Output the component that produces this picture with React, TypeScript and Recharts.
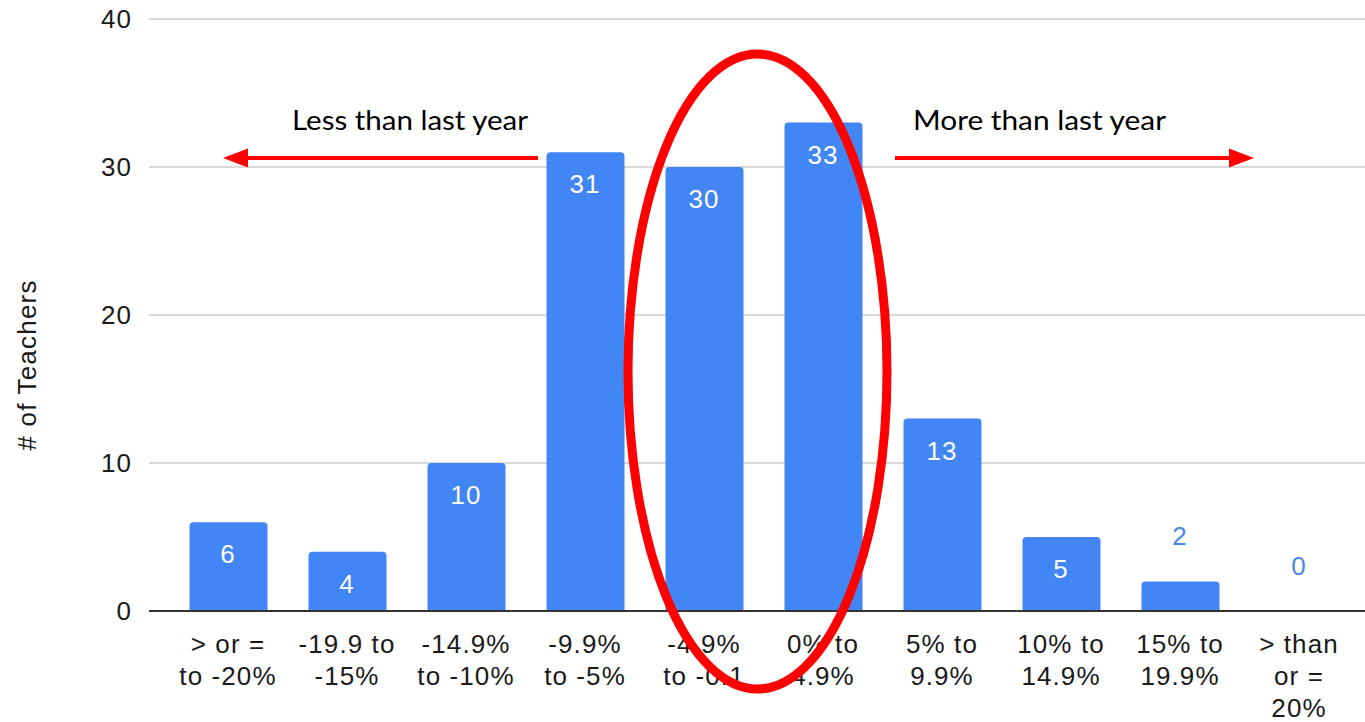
import React from 'react';
import { ComposedChart, Bar, Line, XAxis, YAxis, CartesianGrid, LabelList } from 'recharts';

// Change in teacher count, bucketed by percentage band
const categories = [
  'gte-minus-20',
  'minus-19.9-to-15',
  'minus-14.9-to-10',
  'minus-9.9-to-5',
  'minus-4.9-to-0.1',
  '0-to-4.9',
  '5-to-9.9',
  '10-to-14.9',
  '15-to-19.9',
  'gte-20',
];

const teachers = [6, 4, 10, 31, 30, 33, 13, 5, 2, 0];

const tickLabels: string[][] = [
  ['> or =', 'to -20%'],
  ['-19.9 to', '-15%'],
  ['-14.9%', 'to -10%'],
  ['-9.9%', 'to -5%'],
  ['-4.9%', 'to -0.1'],
  ['0% to', '4.9%'],
  ['5% to', '9.9%'],
  ['10% to', '14.9%'],
  ['15% to', '19.9%'],
  ['> than', 'or =', '20%'],
];

const yTicks = [0, 10, 20, 30, 40];

const data = categories.map((id, i) => ({ id, teachers: teachers[i] }));

const FONT = '"Liberation Sans", Arial, sans-serif';
const BAR_BLUE = '#4285F4';
const RED = '#ff0000';

function CategoryTick({ x, y, payload }: any) {
  const lines = tickLabels[categories.indexOf(payload.value)] || [];
  return (
    <text
      x={x}
      y={y}
      textAnchor="middle"
      fill="#1a1a1a"
      style={{ fontFamily: FONT, fontSize: 26, letterSpacing: 1.1 }}
    >
      {lines.map((line, i) => (
        <tspan key={i} x={x} dy={i === 0 ? 34 : 32}>
          {line}
        </tspan>
      ))}
    </text>
  );
}

// Value labels ride on an invisible line through the bar tops, so empty
// buckets still get their "0"; short bars carry the number above them.
function ValueLabel({ x, y, value }: any) {
  const inside = value >= 4;
  return (
    <text
      x={x}
      y={inside ? y + 32 : y - 45}
      textAnchor="middle"
      dominantBaseline="central"
      fill={inside ? '#ffffff' : '#4a86e8'}
      style={{ fontFamily: FONT, fontSize: 26, letterSpacing: 1 }}
    >
      {value}
    </text>
  );
}

function Annotations() {
  return (
    <svg
      width={1365}
      height={722}
      style={{ position: 'absolute', left: 0, top: 0, pointerEvents: 'none' }}
    >
      <text
        x={292}
        y={130}
        textLength={236}
        lengthAdjust="spacingAndGlyphs"
        style={{ fontFamily: 'Lato, "Open Sans", sans-serif', fontSize: 26 }}
        fill="#000"
      >
        Less than last year
      </text>
      <text
        x={913}
        y={130}
        textLength={253}
        lengthAdjust="spacingAndGlyphs"
        style={{ fontFamily: 'Lato, "Open Sans", sans-serif', fontSize: 26 }}
        fill="#000"
      >
        More than last year
      </text>
      <line x1={538} y1={158} x2={246} y2={158} stroke={RED} strokeWidth={4} />
      <polygon points="223,158 248,148.5 248,167.5" fill={RED} />
      <line x1={895} y1={158} x2={1231} y2={158} stroke={RED} strokeWidth={4} />
      <polygon points="1254,158 1229,148.5 1229,167.5" fill={RED} />
      <ellipse cx={757.5} cy={371.5} rx={129.5} ry={317.5} fill="none" stroke={RED} strokeWidth={9} />
    </svg>
  );
}

export default function App() {
  return (
    <div style={{ position: 'absolute', left: 0, top: 0, width: 1365, height: 722, background: '#fff' }}>
      <ComposedChart
        width={1365}
        height={722}
        data={data}
        margin={{ top: 19, right: 0, left: 0, bottom: 0 }}
        barSize={78}
      >
        <CartesianGrid vertical={false} stroke="#cccccc" strokeWidth={1.5} />
        <XAxis
          dataKey="id"
          height={111}
          padding={{ left: 19.5, right: 6.5 }}
          axisLine={{ stroke: '#333333', strokeWidth: 2 }}
          tickLine={false}
          interval={0}
          tick={<CategoryTick />}
        />
        <YAxis
          width={149}
          domain={[0, 40]}
          ticks={yTicks}
          axisLine={false}
          tickLine={false}
          tickMargin={11}
          tick={{ fill: '#1a1a1a', fontSize: 26, fontFamily: FONT, letterSpacing: 1 }}
          label={({ viewBox }: any) => {
            const cx = 27;
            const cy = viewBox.y + viewBox.height / 2 + 50;
            return (
              <text
                x={cx}
                y={cy}
                transform={`rotate(-90, ${cx}, ${cy})`}
                textAnchor="middle"
                dominantBaseline="central"
                fill="#1a1a1a"
                style={{ fontFamily: FONT, fontSize: 26, letterSpacing: 1.2 }}
              >
                # of Teachers
              </text>
            );
          }}
        />
        <Bar dataKey="teachers" fill={BAR_BLUE} radius={[4, 4, 0, 0]} isAnimationActive={false} />
        <Line
          dataKey="teachers"
          stroke="none"
          dot={false}
          activeDot={false}
          legendType="none"
          isAnimationActive={false}
        >
          <LabelList dataKey="teachers" content={<ValueLabel />} />
        </Line>
      </ComposedChart>
      <Annotations />
    </div>
  );
}
